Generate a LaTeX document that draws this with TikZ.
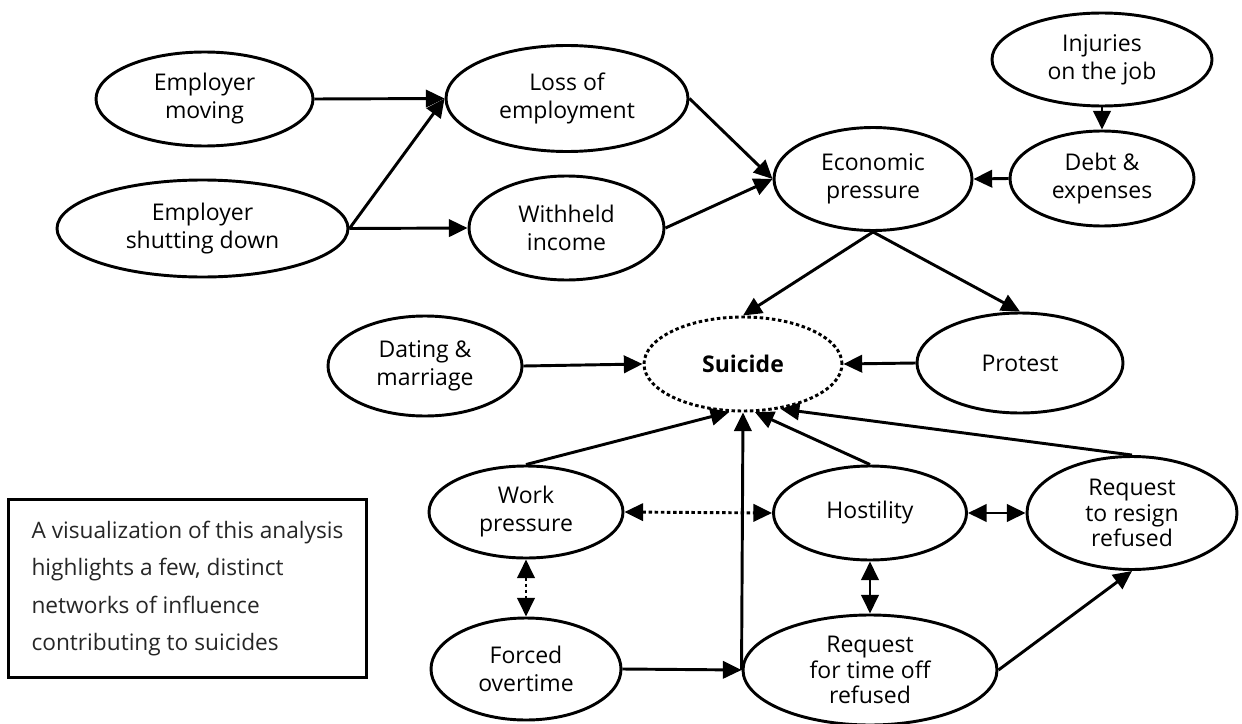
\documentclass[tikz,border=0pt]{standalone}
\usepackage{fontspec}
\setmainfont{Open Sans}
\usetikzlibrary{shapes.geometric, arrows.meta}
\tikzset{every picture/.style={line width=2.2pt}}
\tikzset{
  bubble/.style={ellipse, draw, line width=2.2pt, inner sep=0pt, align=center, font=\fontsize{17.25}{21}\selectfont},
  threeline/.style={font=\fontsize{17.25}{19}\selectfont},
  dotline/.style={dash pattern=on 2.6pt off 2pt},
  link/.style={line width=2.2pt, -{Triangle[length=14pt,width=13pt]}},
  twoway/.style={line width=2.2pt, {Triangle[length=14pt,width=13pt]}-{Triangle[length=14pt,width=13pt]}},
  notebox/.style={draw, line width=2.2pt, inner xsep=0pt, align=left, font=\fontsize{17}{28}\selectfont, text=black!85}
}

\begin{document}
\begin{tikzpicture}[x=0.75pt,y=0.75pt,yscale=-1,xscale=1]
\useasboundingbox (0,0) rectangle (1242,724);

%Shape: Ellipse [money side]
\node[bubble, minimum width=162.75pt, minimum height=70.5pt] (moving) at (204.5,99) {Employer\\moving};
\node[bubble, minimum width=218.25pt, minimum height=72.75pt] (shutting) at (202.5,228.5) {Employer\\shutting down};
\node[bubble, minimum width=181.5pt, minimum height=79.5pt] (loss) at (567,98.5) {Loss of\\employment};
\node[bubble, minimum width=146.25pt, minimum height=78pt] (withheld) at (566.5,228) {Withheld\\income};
\node[bubble, minimum width=148.5pt, minimum height=77.25pt] (econ) at (873,179) {Economic\\pressure};
\node[bubble, minimum width=165pt, minimum height=69.75pt] (injuries) at (1102,59.5) {Injuries\\on the job};
\node[bubble, minimum width=138pt, minimum height=71.25pt] (debt) at (1102,178.5) {Debt \&\\expenses};

%Shape: Ellipse [middle row]
\node[bubble, minimum width=145.5pt, minimum height=75pt] (dating) at (425,366) {Dating \&\\marriage};
\node[bubble, dotline, minimum width=148.5pt, minimum height=70.5pt] (suicide) at (743,364) {\textbf{Suicide}};
\node[bubble, minimum width=154.5pt, minimum height=75pt] (protest) at (1020,363) {Protest};

%Shape: Ellipse [work side]
\node[bubble, minimum width=145.5pt, minimum height=69pt] (work) at (526,512) {Work\\pressure};
\node[bubble, minimum width=144.75pt, minimum height=70.5pt] (hostility) at (870,513) {Hostility};
\node[bubble, threeline, minimum width=157.5pt, minimum height=84.75pt] (resign) at (1132,513) {Request\\to resign\\refused};
\node[bubble, minimum width=142.5pt, minimum height=76.5pt] (forced) at (526,669) {Forced\\overtime};
\node[bubble, threeline, minimum width=190.5pt, minimum height=82.5pt] (timeoff) at (870,670) {Request\\for time off\\refused};

% Text Node
\node[notebox, anchor=north west, minimum width=268.5pt, minimum height=133.5pt] (note) at (7,498) {A visualization of this analysis\\highlights a few, distinct\\networks of influence\\contributing to suicides};

%Straight Lines
\draw[link] (moving.east) -- (loss.west);
\draw[link] (shutting.east) -- (loss.west);
\draw[link] (shutting.east) -- (withheld.west);
\draw[link] (loss.east) -- (econ.west);
\draw[link] (withheld.east) -- (econ.west);
\draw[link] (injuries.south) -- (debt.north);
\draw[link] (debt.west) -- (econ.east);
\draw[link] (econ.south) -- (suicide.north);
\draw[link] (econ.south) -- (protest.north);
\draw[link] (dating.east) -- (suicide.west);
\draw[link] (protest.west) -- (suicide.east);
\draw[link] (work.north) -- (suicide.254);
\draw[link] (timeoff.west) -- (suicide.south);
\draw[link] (hostility.north) -- (suicide.284);
\draw[link] (resign.north) -- (suicide.310);
\draw[twoway, dotline] (work.east) -- (hostility.west);
\draw[twoway] (hostility.east) -- (resign.west);
\draw[twoway, dotline] (work.south) -- (forced.north);
\draw[twoway] (hostility.south) -- (timeoff.north);
\draw[link] (forced.east) -- (timeoff.west);
\draw[link] (timeoff.east) -- (resign.south);

\end{tikzpicture}
\end{document}
